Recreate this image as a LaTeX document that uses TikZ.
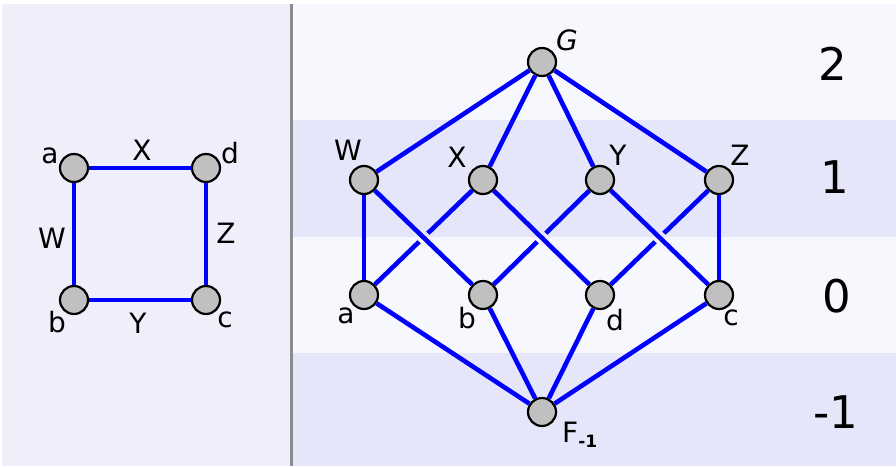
\documentclass[tikz,border=0pt]{standalone}
\usepackage{fontspec}
\setmainfont{DejaVu Sans}
\definecolor{leftbg}{HTML}{EFEFFC}
\definecolor{bandlight}{HTML}{F7F8FE}
\definecolor{bandlav}{HTML}{E6E6FA}
\definecolor{vgray}{HTML}{C0C0C0}
\definecolor{divgray}{HTML}{8C8C8C}
\tikzset{
  vtx/.style={circle, fill=vgray, draw=black, line width=2.2pt, minimum size=28pt, inner sep=0pt},
  bl/.style={draw=blue, line width=4.6pt},
  halolight/.style={draw=bandlight, line width=12pt, shorten >=45pt, shorten <=45pt},
  halolav/.style={draw=bandlav, line width=12pt, shorten >=45pt, shorten <=45pt},
  lbl/.style={font=\fontsize{28}{28}\selectfont, anchor=base, inner sep=0pt},
  lvl/.style={font=\fontsize{45}{45}\selectfont, anchor=base, inner sep=0pt}
}
\begin{document}
\begin{tikzpicture}[x=1pt,y=-1pt]
\useasboundingbox (0,0) rectangle (896,466);
\fill[white] (0,0) rectangle (896,466);
\fill[leftbg] (2,4) rectangle (290,466);
\fill[bandlight] (293,4) rectangle (896,120);
\fill[bandlav] (293,120) rectangle (896,237);
\fill[bandlight] (293,237) rectangle (896,353);
\fill[bandlav] (293,353) rectangle (896,466);
\draw[divgray, line width=2.2pt] (291.5,4) -- (291.5,466);

% left square
\node[vtx] (la) at (74,168) {};
\node[vtx] (ld) at (206,168) {};
\node[vtx] (lb) at (74,300) {};
\node[vtx] (lc) at (206,300) {};
\draw[bl] (la) -- (ld);
\draw[bl] (ld) -- (lc);
\draw[bl] (lc) -- (lb);
\draw[bl] (lb) -- (la);
\node[lbl] (tla) at (50,163) {a};
\node[lbl] (tld) at (230,163) {d};
\node[lbl] (tlb) at (57,332) {b};
\node[lbl] (tlc) at (225,327) {c};
\node[lbl] (tlX) at (142,160) {X};
\node[lbl] (tlW) at (52,248) {W};
\node[lbl] (tlZ) at (226,243) {Z};
\node[lbl] (tlY) at (138,333) {Y};

% lattice
\node[vtx] (G) at (542,62) {};
\node[vtx] (W) at (364,180) {};
\node[vtx] (X) at (483,180) {};
\node[vtx] (Y) at (600,180) {};
\node[vtx] (Z) at (719,180) {};
\node[vtx] (a) at (364,295) {};
\node[vtx] (b) at (483,295) {};
\node[vtx] (d) at (600,295) {};
\node[vtx] (c) at (719,295) {};
\node[vtx] (F) at (542,412) {};

\draw[bl] (G) -- (W);
\draw[bl] (G) -- (X);
\draw[bl] (G) -- (Y);
\draw[bl] (G) -- (Z);
\draw[bl] (W) -- (a);
\draw[bl] (Z) -- (c);
\draw[bl] (a) -- (X);
\draw[bl] (b) -- (Y);
\draw[bl] (d) -- (Z);
\begin{scope}
  \clip (293,120) rectangle (896,237.5);
  \draw[halolav] (W) -- (b);
  \draw[halolav] (X) -- (d);
  \draw[halolav] (Y) -- (c);
\end{scope}
\begin{scope}
  \clip (293,237.5) rectangle (896,353);
  \draw[halolight] (W) -- (b);
  \draw[halolight] (X) -- (d);
  \draw[halolight] (Y) -- (c);
\end{scope}
\draw[bl] (W) -- (b);
\draw[bl] (X) -- (d);
\draw[bl] (Y) -- (c);
\draw[bl] (a) -- (F);
\draw[bl] (b) -- (F);
\draw[bl] (d) -- (F);
\draw[bl] (c) -- (F);

\node[lbl, font=\fontsize{28}{28}\selectfont\itshape] (tG) at (567,50) {G};
\node[lbl] (tW) at (348,160) {W};
\node[lbl] (tX) at (457,167) {X};
\node[lbl] (tY) at (618,165) {Y};
\node[lbl] (tZ) at (740,165) {Z};
\node[lbl] (ta) at (346,323) {a};
\node[lbl] (tb) at (467,328) {b};
\node[lbl] (td) at (615,330) {d};
\node[lbl] (tc) at (731,325) {c};
\node[lbl, anchor=base west] (tF) at (562,442) {F\raisebox{-5pt}{\fontsize{17}{17}\selectfont\bfseries -1}};

\node[lvl] (n2) at (833,80) {2};
\node[lvl] (n1) at (835,193) {1};
\node[lvl] (n0) at (837,312) {0};
\node[lvl] (nm1) at (836,428) {-1};
\end{tikzpicture}
\end{document}
